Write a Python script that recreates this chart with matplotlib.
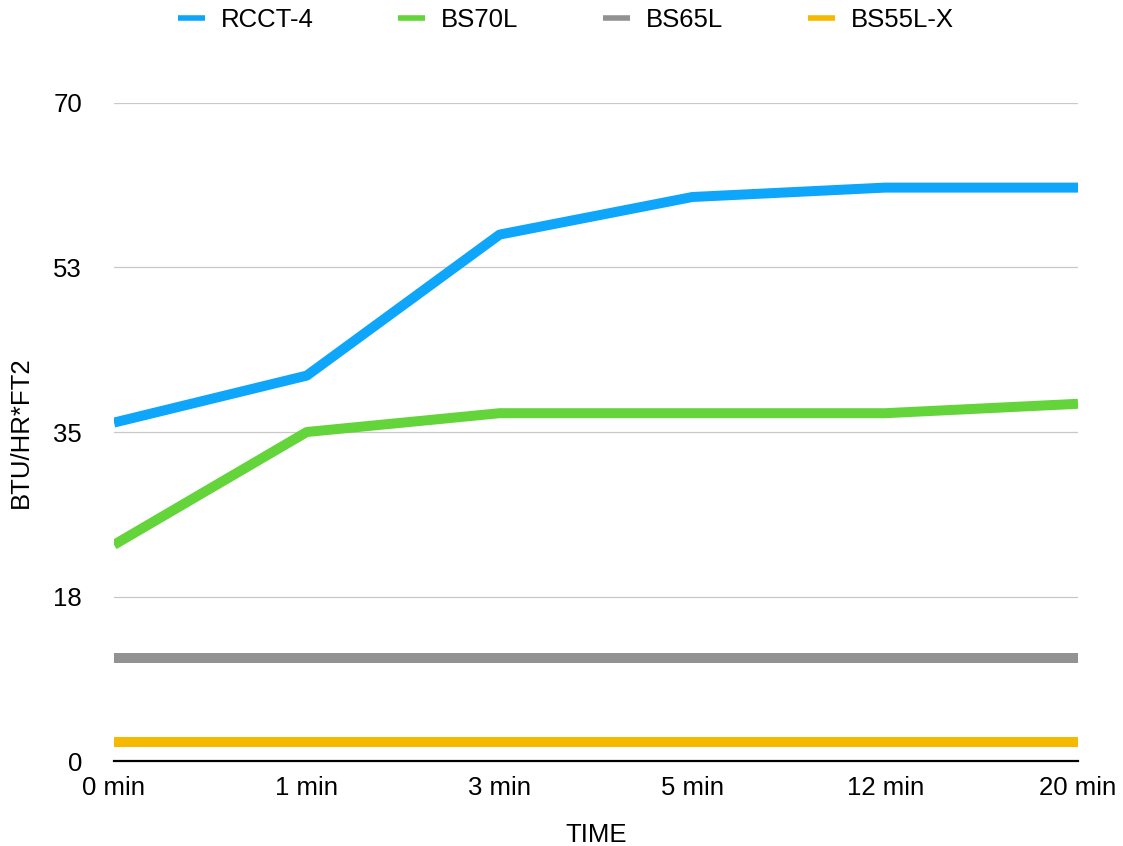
import matplotlib
matplotlib.use("Agg")
import matplotlib.pyplot as plt

plt.rcParams['font.family'] = ['Liberation Sans', 'DejaVu Sans']

times = ["0 min", "1 min", "3 min", "5 min", "12 min", "20 min"]
rcct4 = [36, 41, 56, 60, 61, 61]
bs70l = [23, 35, 37, 37, 37, 38]
bs65l = [11, 11, 11, 11, 11, 11]
bs55lx = [2, 2, 2, 2, 2, 2]

yticks = [0, 17.5, 35, 52.5, 70]
ytick_labels = ["0", "18", "35", "53", "70"]

fig = plt.figure(figsize=(11.23, 8.46), dpi=100)
ax = fig.add_axes([114 / 1123, 85 / 846, 964 / 1123, 658 / 846])

x = range(len(times))
lw = 7.2
ax.plot(x, rcct4, color="#0da6fb", lw=lw, label="RCCT-4", solid_capstyle="butt")
ax.plot(x, bs70l, color="#63d43a", lw=lw, label="BS70L", solid_capstyle="butt")
ax.plot(x, bs65l, color="#929292", lw=lw, label="BS65L", solid_capstyle="butt")
ax.plot(x, bs55lx, color="#f7b900", lw=lw, label="BS55L-X", solid_capstyle="butt")

ax.set_xlim(0, len(times) - 1)
ax.set_ylim(0, 70)
ax.set_yticks(yticks)
ax.set_yticklabels(ytick_labels)
ax.set_xticks(list(x))
ax.set_xticklabels(times)
ax.tick_params(length=0, labelsize=18.5, colors="black")
ax.tick_params(axis="y", pad=23)
ax.tick_params(axis="x", pad=11)

for s in ["top", "right", "left"]:
    ax.spines[s].set_visible(False)
ax.spines["bottom"].set_linewidth(1.6)
ax.spines["bottom"].set_color("black")
ax.spines["bottom"].set_zorder(5)

for yv in yticks[1:]:
    ax.axhline(yv, color="#c8c8c8", lw=0.9, zorder=0)

ax.set_xlabel("TIME", fontsize=18.5, labelpad=16)
ax.set_ylabel("BTU/HR*FT2", fontsize=18.5)
ax.yaxis.set_label_coords(-0.084, 0.5)

leg = fig.legend(loc="center", bbox_to_anchor=(566 / 1123, 1 - 20 / 846), ncol=4,
                 frameon=False, fontsize=18.5, handlelength=1.05, handletextpad=0.62,
                 columnspacing=3.3)
for h in leg.get_lines():
    h.set_linewidth(4)

fig.savefig("out.png", dpi=100)
